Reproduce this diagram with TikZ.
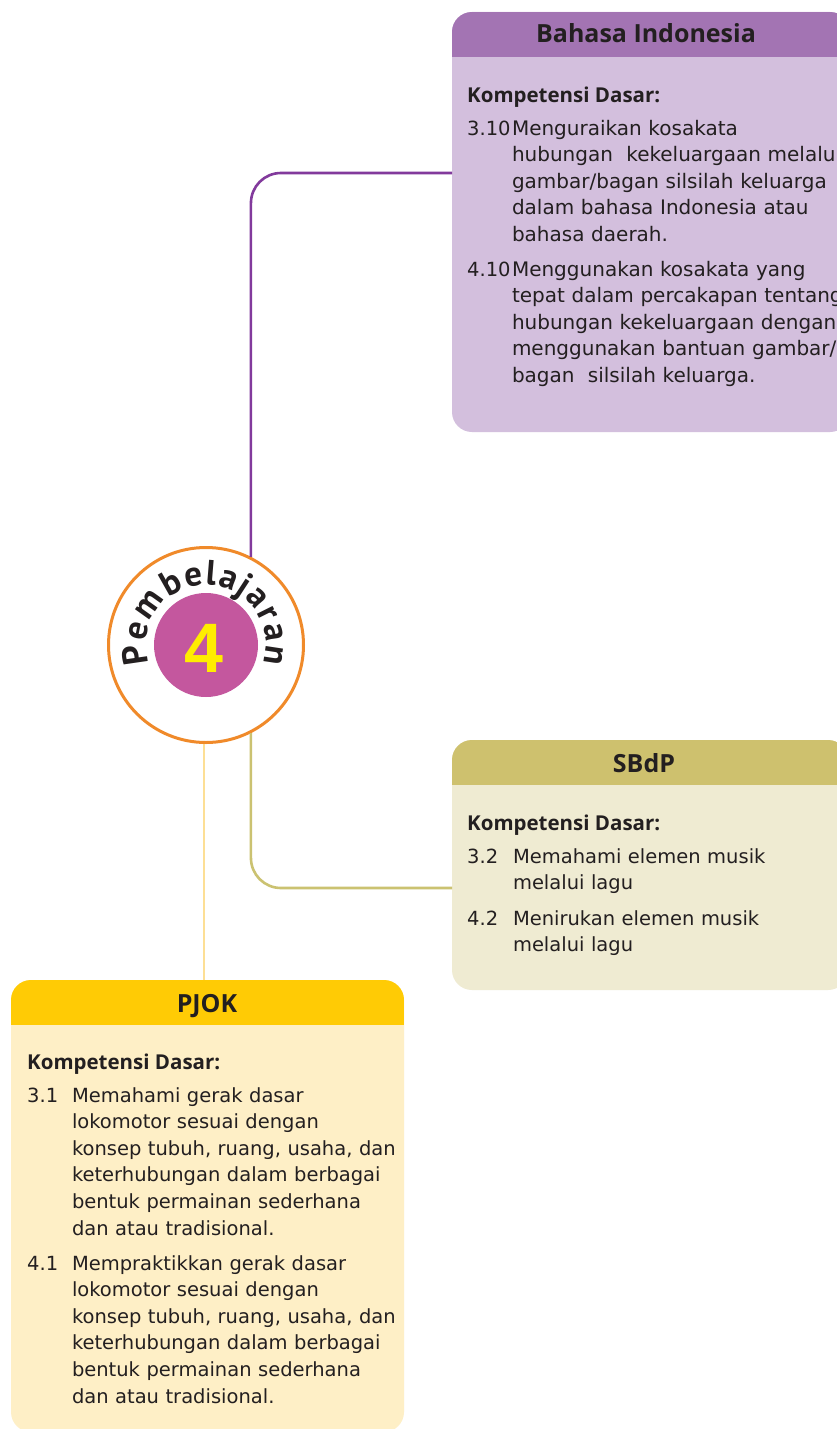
\documentclass[tikz,border=0pt]{standalone}
\usepackage{fontspec}
\setmainfont{DejaVu Sans}
\newfontfamily\headfont{Open Sans}
\newfontfamily\numfont{Liberation Sans}
\newfontfamily\arcfont{PT Sans}
\definecolor{bihead}{HTML}{A374B3}
\definecolor{bibody}{HTML}{D3BFDD}
\definecolor{biline}{HTML}{823A9C}
\definecolor{sbhead}{HTML}{CEC16E}
\definecolor{sbbody}{HTML}{EFEBD2}
\definecolor{sbline}{HTML}{CBC271}
\definecolor{pjhead}{HTML}{FFCB05}
\definecolor{pjbody}{HTML}{FEEFC6}
\definecolor{pjline}{HTML}{FDDF95}
\definecolor{ring}{HTML}{F08A2A}
\definecolor{mag}{HTML}{C4579E}
\definecolor{four}{HTML}{FFED00}
\definecolor{ink}{HTML}{231F20}
\tikzset{
  box/.style={rectangle, rounded corners=20, inner sep=0, outer sep=0},
  headtxt/.style={anchor=base, inner sep=0, text=ink, font=\headfont\bfseries\fontsize{25}{28}\selectfont},
  kd/.style={anchor=base west, inner sep=0, text=ink, font=\headfont\bfseries\fontsize{20.5}{24}\selectfont},
  numtxt/.style={anchor=base west, inner sep=0, text=ink, font=\fontsize{19.5}{26.6}\selectfont},
  txt/.style={anchor=base west, inner sep=0, outer sep=0, text width=500, align=left, text=ink, font=\fontsize{19.5}{26.6}\selectfont},
  bitxt/.style={txt, font=\fontsize{20}{26.6}\selectfont},
  conn/.style={line width=2.6, rounded corners=30},
  letter/.style={anchor=base, inner sep=0, text=ink, font=\arcfont\bfseries\fontsize{35}{35}\selectfont}
}
\begin{document}
\begin{tikzpicture}[x=1pt,y=1pt]
\useasboundingbox (0,0) rectangle (836,-1429);
\fill[white] (0,0) rectangle (836,-1429);

% ---- Bahasa Indonesia box
\node[box, fill=bibody, minimum width=398, minimum height=420] (bi) at (651,-222) {};
\begin{scope}
  \clip[rounded corners=20] (bi.south west) rectangle (bi.north east);
  \fill[bihead] (bi.north west) rectangle ([yshift=-45]bi.north east);
\end{scope}
\node[headtxt] (bih) at (646,-43) {Bahasa Indonesia};
\node[kd] (bikd) at (467,-102) {Kompetensi Dasar:};
\node[numtxt] (bin1) at (467,-135) {3.10};
\node[bitxt] (bit1) at (512,-135) {Menguraikan kosakata\\hubungan\ \ kekeluargaan melalui\\gambar/bagan silsilah keluarga\\dalam bahasa Indonesia atau\\bahasa daerah.};
\node[numtxt] (bin2) at (467,-276) {4.10};
\node[bitxt] (bit2) at (512,-276) {Menggunakan kosakata yang\\tepat dalam percakapan tentang\\hubungan kekeluargaan dengan\\menggunakan bantuan gambar/\\bagan\ \ silsilah keluarga.};

% ---- SBdP box
\node[box, fill=sbbody, minimum width=396, minimum height=250] (sb) at (650,-865) {};
\begin{scope}
  \clip[rounded corners=20] (sb.south west) rectangle (sb.north east);
  \fill[sbhead] (sb.north west) rectangle ([yshift=-45]sb.north east);
\end{scope}
\node[headtxt] (sbh) at (644,-772) {SBdP};
\node[kd] (sbkd) at (467,-830) {Kompetensi Dasar:};
\node[numtxt] (sbn1) at (467,-863) {3.2};
\node[txt] (sbt1) at (513,-863) {Memahami elemen musik\\melalui lagu};
\node[numtxt] (sbn2) at (467,-925) {4.2};
\node[txt] (sbt2) at (513,-925) {Menirukan elemen musik\\melalui lagu};

% ---- PJOK box
\node[box, fill=pjbody, minimum width=393, minimum height=452] (pj) at (207.5,-1206) {};
\begin{scope}
  \clip[rounded corners=20] (pj.south west) rectangle (pj.north east);
  \fill[pjhead] (pj.north west) rectangle ([yshift=-45]pj.north east);
\end{scope}
\node[headtxt] (pjh) at (207,-1012) {PJOK};
\node[kd] (pjkd) at (27,-1069) {Kompetensi Dasar:};
\node[numtxt] (pjn1) at (27,-1102) {3.1};
\node[txt] (pjt1) at (72,-1102) {Memahami gerak dasar\\lokomotor sesuai dengan\\konsep tubuh, ruang, usaha, dan\\keterhubungan dalam berbagai\\bentuk permainan sederhana\\dan atau tradisional.};
\node[numtxt] (pjn2) at (27,-1270) {4.1};
\node[txt] (pjt2) at (72,-1270) {Mempraktikkan gerak dasar\\lokomotor sesuai dengan\\konsep tubuh, ruang, usaha, dan\\keterhubungan dalam berbagai\\bentuk permainan sederhana\\dan atau tradisional.};

% ---- central circle
\node[circle, draw=ring, line width=3, fill=white, minimum size=195, inner sep=0] (ring) at (206,-645) {};
\node[circle, fill=mag, minimum size=104, inner sep=0] (core) at (206,-645) {};
\node[inner sep=0, text=four, font=\numfont\bfseries\fontsize{70}{70}\selectfont] (num4) at (204,-648) {4};
\foreach \l/\a [count=\i] in {P/188.3,e/168.7,m/144.45,b/119.4,e/100,l/85.4,a/71.05,j/56.85,a/42.65,r/26.6,a/10.55,n/-8.65}
  \node[letter, rotate=\a-90] (L\i) at ([shift={(\a:60)}]ring.center) {\l};

% ---- connectors
\coordinate (biin) at (452,-173);
\coordinate (sbin) at (452,-888);
\draw[conn, biline] (ring.63.6) |- (biin);
\draw[conn, sbline] (ring.-63.6) |- (sbin);
\draw[line width=2.6, pjline] ([xshift=-2]ring.south) -- ([xshift=-2]ring.south |- pj.north);
\end{tikzpicture}
\end{document}
